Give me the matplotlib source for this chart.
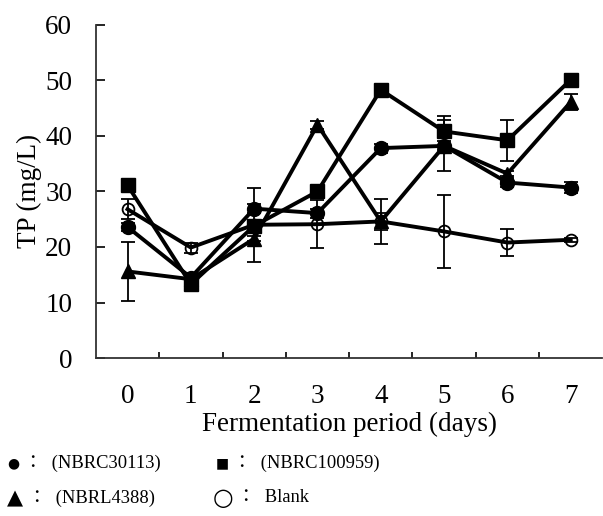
import matplotlib.pyplot as plt
import numpy as np

days = [0, 1, 2, 3, 4, 5, 6, 7]
tick_labels = ["0", "1", "2", "3", "4", "5", "6", "7"]

nbrc30113 = [23.6, 14.5, 26.9, 26.1, 37.8, 38.2, 31.6, 30.7]
nbrc30113_err = [0.8, 0.8, 0.8, 0.8, 0.8, 0.8, 0.8, 1.0]

nbrc100959 = [31.1, 13.3, 23.8, 30.0, 48.3, 40.8, 39.2, 50.1]
nbrc100959_err = [0.5, 0.5, 0.5, 0.5, 0.5, 2.7, 3.7, 0.5]

nbrl4388 = [15.6, 14.2, 21.5, 42.0, 24.6, 38.2, 33.2, 46.1]
nbrl4388_err = [5.3, 0.5, 0.5, 0.7, 4.1, 4.6, 0.5, 1.5]

blank = [26.8, 19.9, 24.0, 24.1, 24.6, 22.8, 20.8, 21.3]
blank_err = [1.8, 0.9, 6.7, 4.3, 1.5, 6.5, 2.5, 0.4]

plt.rcParams['font.family'] = ['Liberation Serif', 'Noto Sans CJK JP']
plt.rcParams['font.size'] = 19.5

fig = plt.figure(figsize=(6.03, 5.16), dpi=100)
ax = fig.add_axes([0.159, 0.306, 0.84, 0.646])

x = np.array(days)
series = [
    (blank, blank_err, dict(marker='o', mfc='none', mec='black', ms=8.5, mew=1.3)),
    (nbrl4388, nbrl4388_err, dict(marker='^', mfc='black', mec='black', ms=10)),
    (nbrc30113, nbrc30113_err, dict(marker='o', mfc='black', mec='black', ms=10)),
    (nbrc100959, nbrc100959_err, dict(marker='s', mfc='black', mec='black', ms=10)),
]
for vals, err, style in series:
    ax.errorbar(x, vals, yerr=err, color='black', lw=2.8, elinewidth=1.3,
                ecolor='black', capsize=5, capthick=1.3, **style)

ax.set_xlim(-0.5, 7.5)
ax.set_ylim(0, 60)
ax.set_yticks(np.arange(0, 61, 10))
ax.set_xticks(x)
ax.set_xticklabels(tick_labels)
ax.set_xticks(np.arange(0.5, 7, 1), minor=True)
ax.tick_params(axis='x', which='major', length=0, pad=19)
ax.tick_params(axis='x', which='minor', direction='in', length=4, width=1.2)
ax.tick_params(axis='y', direction='in', length=6.5, width=1.2, pad=17)
for side in ['top', 'right']:
    ax.spines[side].set_visible(False)
for side in ['left', 'bottom']:
    ax.spines[side].set_linewidth(1.3)
    ax.spines[side].set_color('#333333')

ax.set_ylabel("TP (mg/L)", labelpad=2.5)
ax.set_xlabel("Fermentation period (days)", labelpad=2)

# key below the chart: symbol, then colon and strain name
W, H = 603.0, 516.0
key = [
    ("●", 10, 7, 463, "：  (NBRC30113)", 24),
    ("■", 10, 216, 463, "：  (NBRC100959)", 233),
    ("▲", 15, 7, 498, "：  (NBRL4388)", 28),
    ("○", 17, 213, 498, "：  Blank", 237),
]
for sym, size, sx, sy, txt, tx in key:
    fig.text(sx / W, 1 - sy / H, sym, fontsize=size, va='center',
             family=['DejaVu Sans'])
    fig.text(tx / W, 1 - sy / H, txt, fontsize=13.3, va='center')

fig.savefig("out.png", dpi=100)
